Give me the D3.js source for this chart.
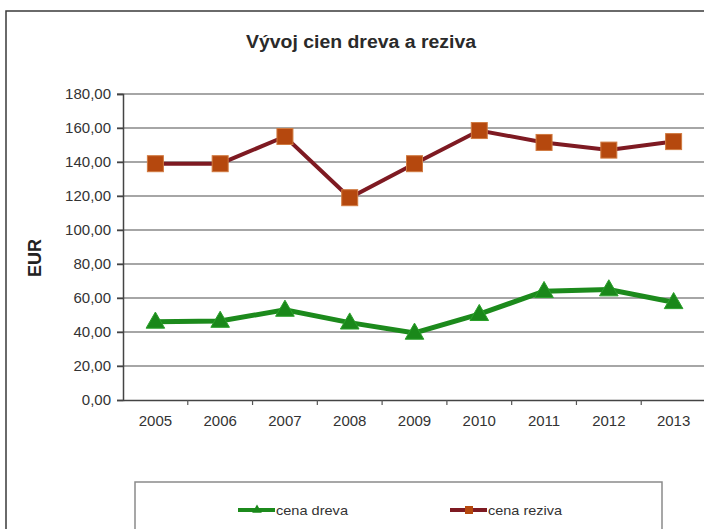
<!DOCTYPE html>
<html>
<head>
<meta charset="utf-8">
<script src="https://cdn.jsdelivr.net/npm/d3@7"></script>
<style>
  body { margin: 0; background: #fff; }
  svg { display: block; font-family: "Liberation Sans", Arial, sans-serif; }
</style>
</head>
<body>
<svg id="chart"></svg>
<script>
const years = ['2005', '2006', '2007', '2008', '2009', '2010', '2011', '2012', '2013'];
const cenaDreva = [46, 46.5, 53, 45.5, 39.5, 50.5, 64, 65, 57.5];
const cenaReziva = [139, 139, 155, 119, 139, 158.5, 151.5, 147, 152];
const yTicks = [0, 20, 40, 60, 80, 100, 120, 140, 160, 180];
const seriesNames = ['cena dreva', 'cena reziva'];

const width = 704, height = 529;
const plotLeft = 123, plotRight = 706, plotTop = 94, plotBottom = 400;

const svg = d3.select('#chart')
    .attr('width', width)
    .attr('height', height);

// outer chart frame
svg.append('rect')
    .attr('x', 6).attr('y', 11)
    .attr('width', 720).attr('height', 540)
    .attr('fill', '#fff')
    .attr('stroke', '#3a3a3a')
    .attr('stroke-width', 1.5);

const xScale = d3.scaleBand()
    .domain(years)
    .range([plotLeft, plotRight])
    .padding(0);
const yScale = d3.scaleLinear()
    .domain([0, 180])
    .range([plotBottom, plotTop]);

const skFormat = d3.formatLocale({decimal: ',', thousands: ' ', grouping: [3], currency: ['', ' €']}).format('.2f');

// gridlines
svg.append('g')
    .selectAll('line')
    .data(yTicks.filter(d => d > 0))
    .enter()
    .append('line')
    .attr('x1', plotLeft - 6)
    .attr('x2', plotRight)
    .attr('y1', d => yScale(d))
    .attr('y2', d => yScale(d))
    .attr('stroke', '#a6a6a6')
    .attr('stroke-width', 2);

// y axis
const yAxis = d3.axisLeft(yScale)
    .tickValues(yTicks)
    .tickFormat(skFormat)
    .tickSize(6)
    .tickPadding(6);
const yg = svg.append('g')
    .attr('transform', `translate(${plotLeft},0)`)
    .call(yAxis);
yg.select('.domain').attr('stroke', '#444').attr('stroke-width', 1.5);
yg.selectAll('.tick line').attr('stroke', '#444').attr('stroke-width', 1.5);
yg.selectAll('.tick text')
    .attr('font-size', 15)
    .attr('fill', '#333')
    .attr('font-family', '"Liberation Sans", Arial, sans-serif');

// x axis
const xAxis = d3.axisBottom(xScale).tickSize(0).tickPadding(15);
const xg = svg.append('g')
    .attr('transform', `translate(0,${plotBottom})`)
    .call(xAxis);
xg.select('.domain').attr('stroke', '#444').attr('stroke-width', 1.5);
xg.selectAll('.tick text')
    .attr('font-size', 15)
    .attr('fill', '#333')
    .attr('font-family', '"Liberation Sans", Arial, sans-serif');
// category separators
xg.selectAll('line.sep')
    .data(years.slice(1))
    .enter()
    .append('line')
    .attr('class', 'sep')
    .attr('x1', d => xScale(d))
    .attr('x2', d => xScale(d))
    .attr('y1', 0)
    .attr('y2', 5)
    .attr('stroke', '#555')
    .attr('stroke-width', 1.2);

const cx = d => xScale(d) + xScale.bandwidth() / 2;

// series lines
const line = d3.line()
    .x((d, i) => cx(years[i]))
    .y(d => yScale(d));

svg.append('path')
    .datum(cenaReziva)
    .attr('d', line)
    .attr('fill', 'none')
    .attr('stroke', '#7e1a22')
    .attr('stroke-width', 4);

svg.append('path')
    .datum(cenaDreva)
    .attr('d', line)
    .attr('fill', 'none')
    .attr('stroke', '#1c8a1c')
    .attr('stroke-width', 5);

// markers
svg.append('g')
    .selectAll('rect')
    .data(cenaReziva)
    .enter()
    .append('rect')
    .attr('x', (d, i) => cx(years[i]) - 8)
    .attr('y', d => yScale(d) - 8)
    .attr('width', 16)
    .attr('height', 16)
    .attr('fill', '#b5480e')
    .attr('stroke', '#d07a40')
    .attr('stroke-width', 1);

const tri = d3.symbol().type(d3.symbolTriangle).size(150);
svg.append('g')
    .selectAll('path')
    .data(cenaDreva)
    .enter()
    .append('path')
    .attr('d', tri)
    .attr('transform', (d, i) => `translate(${cx(years[i])},${yScale(d) + 1})`)
    .attr('fill', '#1a881a')
    .attr('stroke', '#2aa02a')
    .attr('stroke-width', 1);

// title
svg.append('text')
    .attr('x', 361)
    .attr('y', 48)
    .attr('text-anchor', 'middle')
    .attr('font-size', 18)
    .attr('font-weight', 'bold')
    .attr('fill', '#2a2a2a')
    .attr('textLength', 230)
    .attr('lengthAdjust', 'spacingAndGlyphs')
    .text('Vývoj cien dreva a reziva');

// y axis title
svg.append('text')
    .attr('transform', 'translate(41,258) rotate(-90)')
    .attr('text-anchor', 'middle')
    .attr('font-size', 18)
    .attr('font-weight', 'bold')
    .attr('fill', '#222')
    .text('EUR');

// legend
svg.append('rect')
    .attr('x', 135).attr('y', 482)
    .attr('width', 527).attr('height', 70)
    .attr('fill', '#fff')
    .attr('stroke', '#8a8a8a')
    .attr('stroke-width', 1.5);

const legendItems = [
    {name: seriesNames[0], x: 238, color: '#1c8a1c', marker: 'tri'},
    {name: seriesNames[1], x: 450, color: '#7e1a22', marker: 'sq'}
];
const lg = svg.append('g')
    .selectAll('g')
    .data(legendItems)
    .enter()
    .append('g')
    .attr('transform', d => `translate(${d.x},510)`);
lg.append('line')
    .attr('x1', 0).attr('x2', 37)
    .attr('y1', 0).attr('y2', 0)
    .attr('stroke', d => d.color)
    .attr('stroke-width', 4);
lg.filter(d => d.marker === 'sq')
    .append('rect')
    .attr('x', 15).attr('y', -4)
    .attr('width', 8).attr('height', 8)
    .attr('fill', '#b5480e');
lg.filter(d => d.marker === 'tri')
    .append('path')
    .attr('d', d3.symbol().type(d3.symbolTriangle).size(40))
    .attr('transform', 'translate(19,0)')
    .attr('fill', '#1a881a');
lg.append('text')
    .attr('x', 38)
    .attr('y', 5)
    .attr('font-size', 13)
    .attr('fill', '#333')
    .attr('textLength', d => d.marker === 'tri' ? 72 : 74)
    .attr('lengthAdjust', 'spacingAndGlyphs')
    .text(d => d.name);
</script>
</body>
</html>
